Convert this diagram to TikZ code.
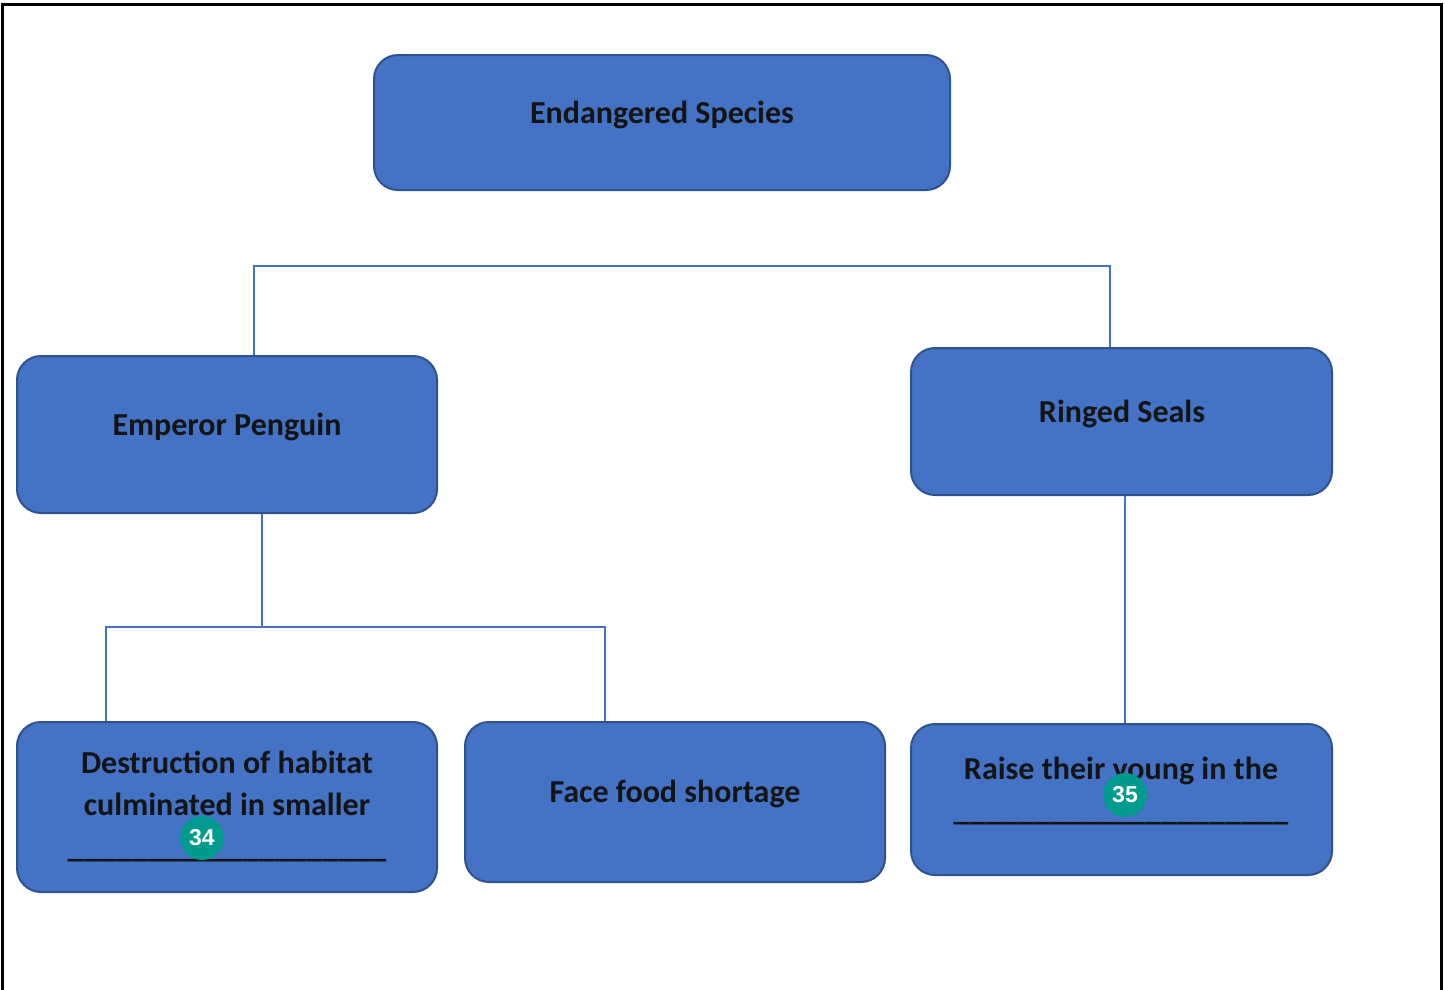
\documentclass[tikz,border=0pt]{standalone}
\usepackage{fontspec}
\setmainfont{Carlito}
\newfontfamily\badgefont{Liberation Sans}
\definecolor{boxfill}{HTML}{4472C4}
\definecolor{boxline}{HTML}{2F528F}
\definecolor{badge}{HTML}{009A8E}
\begin{document}
\begin{tikzpicture}[x=1pt,y=-1pt,
  box/.style={draw=boxline,line width=2pt,fill=boxfill,rounded corners=24pt,inner sep=0pt},
  lbl/.style={anchor=base,inner sep=0pt,font=\fontsize{32}{42}\selectfont\bfseries,text=black!92},
  conn/.style={draw=boxfill,line width=1.3pt},
  badgestyle/.style={circle,fill=badge,minimum size=44pt,inner sep=0pt,text=white,font=\badgefont\bfseries\fontsize{23}{23}\selectfont}]
\useasboundingbox (0,0) rectangle (1445,989);
\fill[white] (0,0) rectangle (1445,989);
\draw[line width=2.6pt] (2.5,995) -- (2.5,4.5) -- (1441.5,4.5) -- (1441.5,995);

% boxes
\node[box,minimum width=576pt,minimum height=135pt] (top) at (662,122.5) {};
\node[box,minimum width=420pt,minimum height=157pt] (emp) at (227,434.5) {};
\node[box,minimum width=421pt,minimum height=147pt] (seal) at (1121.5,421.5) {};
\node[box,minimum width=420pt,minimum height=170pt] (dest) at (227,807) {};
\node[box,minimum width=420pt,minimum height=160pt] (food) at (675,802) {};
\node[box,minimum width=421pt,minimum height=151pt] (raise) at (1121.5,799.5) {};

% connectors
\coordinate (j1) at (254,266);
\coordinate (j2) at (1110,266);
\coordinate (j3) at (262,627);
\coordinate (j4) at (106,627);
\coordinate (j5) at (605,627);
\draw[conn] (emp.north -| j1) -- (j1) -- (j2) -- (seal.north -| j2);
\draw[conn] (emp.south -| j3) -- (j3);
\draw[conn] (dest.north -| j4) -- (j4) -- (j5) -- (food.north -| j5);
\draw[conn] (seal.south -| 1125,0) -- (raise.north -| 1125,0);

% labels
\node[lbl] (ttop) at (662,123) {Endangered Species};
\node[lbl] (temp) at (227,435) {Emperor Penguin};
\node[lbl] (tseal) at (1122,422) {Ringed Seals};
\node[lbl] (tdest1) at (227,773) {Destruction of habitat};
\node[lbl] (tdest2) at (227,815) {culminated in smaller};
\node[lbl] (tdest3) at (227,857) {\_\_\_\_\_\_\_\_\_\_\_\_\_\_\_\_\_\_\_\_};
\node[lbl] (tfood) at (675,802) {Face food shortage};
\node[lbl] (traise1) at (1121,779) {Raise their young in the};
\node[lbl] (traise2) at (1121,820) {\_\_\_\_\_\_\_\_\_\_\_\_\_\_\_\_\_\_\_\_\_};

% badges
\node[badgestyle] (b34) at (202,838) {34};
\node[badgestyle] (b35) at (1125,795) {35};
\end{tikzpicture}
\end{document}
